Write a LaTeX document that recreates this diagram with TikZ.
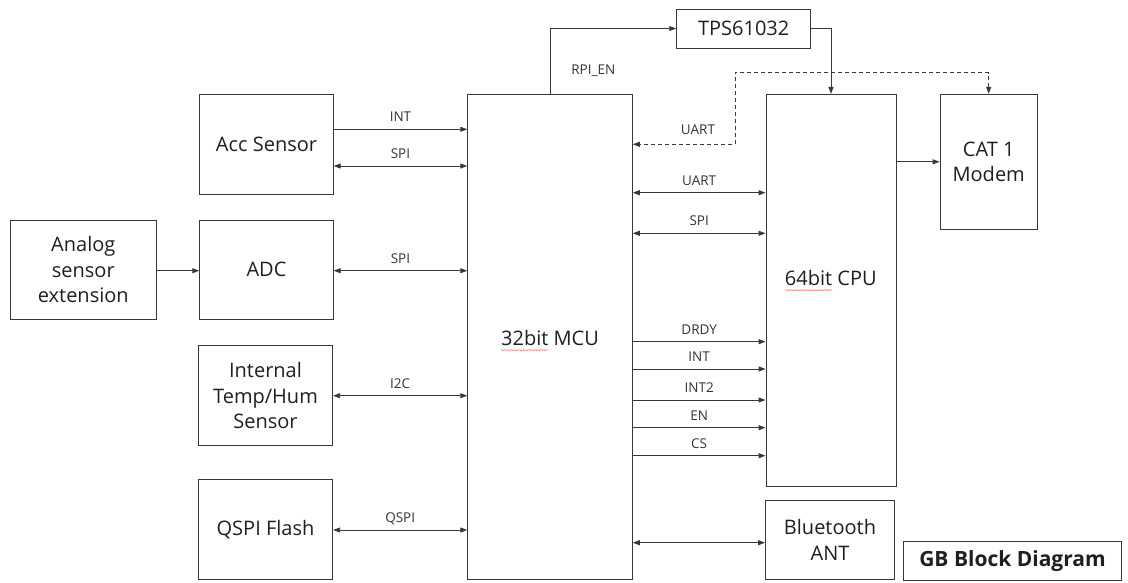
\documentclass[tikz,border=0pt]{standalone}
\usepackage{fontspec}
\setmainfont{Open Sans}
\usetikzlibrary{arrows.meta,decorations.pathmorphing}
\begin{document}
\begin{tikzpicture}[x=1pt,y=-1pt,
  box/.style={draw=black!78, line width=0.9pt, rectangle, inner sep=0pt, align=center,
    font=\fontsize{20}{25.5}\selectfont, text=black!88},
  txt/.style={anchor=base, inner sep=0pt, font=\fontsize{20}{25.5}\selectfont, text=black!88},
  wire/.style={draw=black!78, line width=0.9pt},
  arr/.style={wire, -{Triangle[length=7pt,width=5pt]}},
  barr/.style={wire, {Triangle[length=7pt,width=5pt]}-{Triangle[length=7pt,width=5pt]}},
  lbl/.style={anchor=base, yshift=7.7pt, inner sep=0pt, font=\fontsize{13.5}{16}\selectfont, text=black!80},
  freelbl/.style={anchor=base, inner sep=0pt, font=\fontsize{13.5}{16}\selectfont, text=black!80},
  spell/.style={draw=red!55, line width=0.5pt, decorate,
    decoration={snake, amplitude=0.7pt, segment length=3pt}}
]
\useasboundingbox (0,0) rectangle (1128,582);

% blocks
\node[box, minimum width=133.5pt, minimum height=100pt] (acc) at (266.5,144.3) {Acc Sensor};
\node[box, minimum width=146.7pt, minimum height=99.3pt] (analog) at (83.3,269.7) {Analog\\sensor\\extension};
\node[box, minimum width=133.5pt, minimum height=99.3pt] (adc) at (266.5,269.7) {ADC};
\node[box, minimum width=134.4pt, minimum height=100pt] (temp) at (265.5,395.7) {Internal\\Temp/Hum\\Sensor};
\node[box, minimum width=134.4pt, minimum height=100pt] (qspi) at (265.5,529.3) {QSPI Flash};
\node[box, minimum width=164.6pt, minimum height=485pt] (mcu) at (550,336.8) {};
\node[box, minimum width=134pt, minimum height=39pt] (tps) at (743.7,28.5) {TPS61032};
\node[box, minimum width=130pt, minimum height=391.7pt] (cpu) at (831,290.2) {};
\node[box, minimum width=97.3pt, minimum height=135pt] (cat) at (988.7,161.8) {CAT 1\\Modem};
\node[box, minimum width=129pt, minimum height=78.6pt] (bt) at (830,540) {Bluetooth\\ANT};
\node[box, minimum width=218.4pt, minimum height=38.3pt,
  font=\bfseries\fontsize{21}{25}\selectfont] (gb) at (1012.5,560.8) {GB Block Diagram};

% block titles inside the tall boxes
\node[txt] (mcutxt) at (550,345.7) {32bit MCU};
\node[txt] (cputxt) at (830.8,285.7) {64bit CPU};
\draw[spell] ([yshift=-4.5pt]mcutxt.base west) -- ++(47.6,0);
\draw[spell] ([yshift=-4.5pt]cputxt.base west) -- ++(47.6,0);

% left side connectors
\draw[arr]  (acc.east |- 0,129.3) -- node[lbl]{INT} (mcu.west |- 0,129.3);
\draw[barr] (acc.east |- 0,166) -- node[lbl]{SPI} (mcu.west |- 0,166);
\draw[arr]  (analog.east |- 0,270.7) -- (adc.west |- 0,270.7);
\draw[barr] (adc.east |- 0,270.7) -- node[lbl]{SPI} (mcu.west |- 0,270.7);
\draw[barr] (temp.east) -- node[lbl]{I2C} (mcu.west |- temp.east);
\draw[barr] (qspi.east |- 0,530) -- node[lbl]{QSPI} (mcu.west |- 0,530);

% power enable
\draw[arr] (mcu.north) -- (mcu.north |- tps.west) -- (tps.west);
\node[freelbl] (rpilbl) at (593.3,74) {RPI\_EN};
\draw[arr] (tps.east) -| (cpu.north);

% dashed UART between modem and MCU
\coordinate (dk) at (735,72.5);
\draw[barr, dash pattern=on 4pt off 3pt] (cat.north) |- (dk) |- (mcu.east |- 0,144.3);
\node[freelbl] (uartd) at (698,134.5) {UART};

% CPU to modem
\draw[arr] (cpu.east |- cat.west) -- (cat.west);

% MCU to CPU
\draw[barr] (mcu.east |- 0,192.7) -- node[lbl]{UART} (cpu.west |- 0,192.7);
\draw[barr] (mcu.east |- 0,233.3) -- node[lbl]{SPI} (cpu.west |- 0,233.3);
\draw[arr]  (mcu.east |- 0,341.7) -- node[lbl]{DRDY} (cpu.west |- 0,341.7);
\draw[arr]  (mcu.east |- 0,369) -- node[lbl]{INT} (cpu.west |- 0,369);
\draw[arr]  (mcu.east |- 0,400) -- node[lbl]{INT2} (cpu.west |- 0,400);
\draw[arr]  (mcu.east |- 0,427.7) -- node[lbl]{EN} (cpu.west |- 0,427.7);
\draw[arr]  (mcu.east |- 0,455.7) -- node[lbl]{CS} (cpu.west |- 0,455.7);

% MCU to Bluetooth
\draw[barr] (mcu.east |- 0,542.7) -- (bt.west |- 0,542.7);
\end{tikzpicture}
\end{document}
